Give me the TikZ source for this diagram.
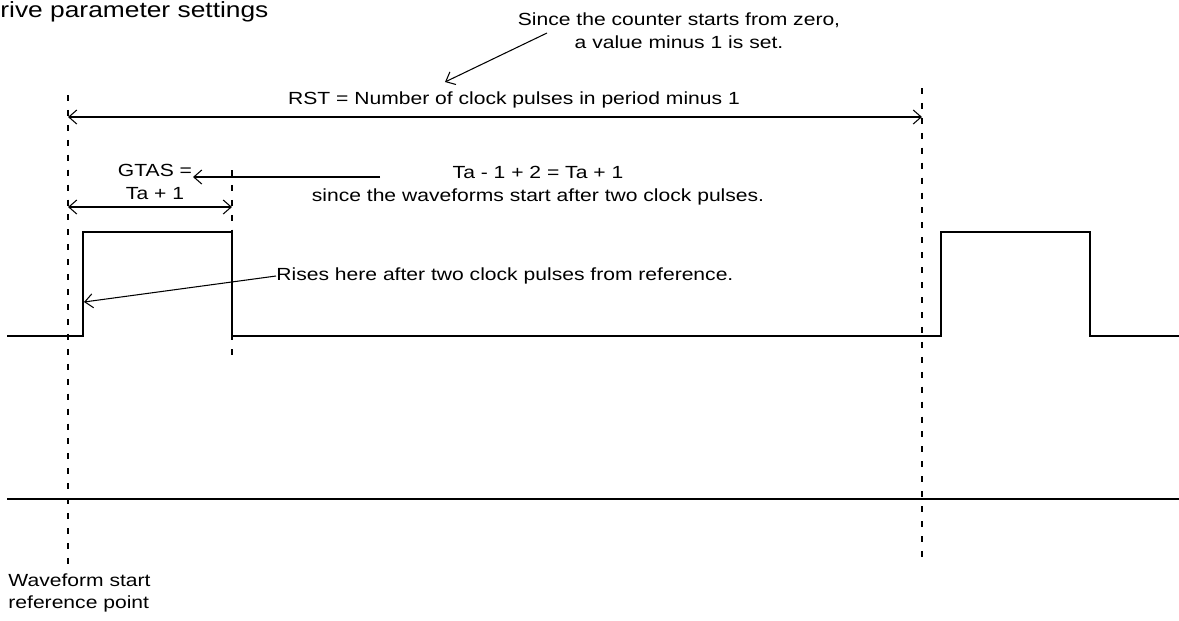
\documentclass[tikz,border=0pt]{standalone}
\usepackage{fontspec}
\setmainfont{Liberation Sans}
\usetikzlibrary{arrows.meta}

\begin{document}
\begin{tikzpicture}[x=0.02cm,y=-0.02cm,
    txt/.style={font=\fontsize{10}{13}\selectfont, inner sep=0pt, align=center, xscale=1.2, transform shape},
    wave/.style={line width=1.6pt},
    guide/.style={line width=0.6pt, dash pattern=on 3.4pt off 5.1pt},
    dim/.style={line width=0.6pt, {Straight Barb[length=1.6mm,width=2.8mm]}-{Straight Barb[length=1.6mm,width=2.8mm]}},
    note/.style={line width=0.6pt, -{Straight Barb[length=1.6mm,width=2.8mm]}}]
    \useasboundingbox (0,0) rectangle (1179,620);

    % dashed reference lines
    \coordinate (ref) at (68,95); \coordinate (refb) at (68,568);
    \coordinate (per) at (922,88); \coordinate (perb) at (922,560);
    \coordinate (fall) at (232,170); \coordinate (fallb) at (232,355);
    \draw[guide] (ref) -- (refb);
    \draw[guide] (per) -- (perb);
    \draw[guide] (fall) -- (fallb);

    % waveforms
    \draw[wave] (7,336) -- (83,336) -- (83,232) -- (232,232) -- (232,336)
        -- (941,336) -- (941,232) -- (1090,232) -- (1090,336) -- (1179,336);
    \draw[wave] (7,499) -- (1179,499);

    % title
    \node[anchor=base west, inner sep=0pt, xscale=1.2, transform shape,
        font=\fontsize{12.5}{15}\selectfont] (title) at (0,17) {rive parameter settings};

    % period
    \coordinate (rstl) at (68,117); \coordinate (rstr) at (922,117);
    \draw[dim] (rstl) -- (rstr);
    \node[txt] (rst) at (514,100) {RST = Number of clock pulses in period minus 1};
    \node[txt] (since) at (679,31) {Since the counter starts from zero,\\a value minus 1 is set.};
    \coordinate (sincefrom) at (547,33); \coordinate (sincetip) at (445,82);
    \draw[note] (sincefrom) -- (sincetip);

    % pulse width
    \coordinate (gtasl) at (68,207); \coordinate (gtasr) at (232,207);
    \draw[dim] (gtasl) -- (gtasr);
    \node[txt] (gtas) at (155,182) {GTAS =\\Ta + 1};
    \node[txt] (calc) at (538,186) {Ta - 1 + 2 = Ta + 1\\since the waveforms start after two clock pulses.};
    \coordinate (calcfrom) at (380,177); \coordinate (calctip) at (193,177);
    \draw[note] (calcfrom) -- (calctip);

    % rising edge
    \node[txt, anchor=west] (rises) at (276,276) {Rises here after two clock pulses from reference.};
    \coordinate (risetip) at (84,302);
    \draw[note] (rises.west) -- (risetip);

    \node[txt, anchor=west, align=left] (wfref) at (8,593) {Waveform start\\reference point};
\end{tikzpicture}
\end{document}
